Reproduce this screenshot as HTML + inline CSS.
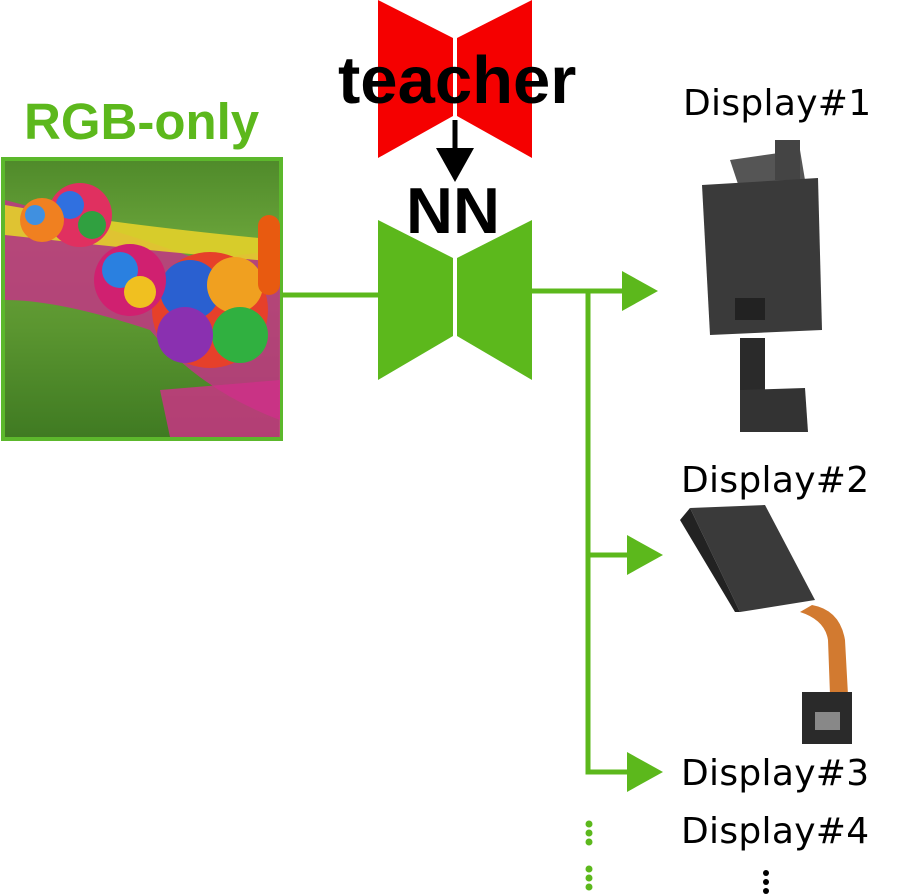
<!DOCTYPE html>
<html><head><style>
body{margin:0;width:897px;height:895px;background:#fff;overflow:hidden;position:relative;font-family:"Liberation Sans",sans-serif}
.t{position:absolute;white-space:nowrap;line-height:1}
.d{font-family:"DejaVu Sans","Liberation Sans",sans-serif;font-size:36px;color:#000;letter-spacing:0.3px}
</style></head><body>
<svg width="897" height="895" style="position:absolute;left:0;top:0">
<defs>
<linearGradient id="sky" x1="0" y1="0" x2="0" y2="1">
<stop offset="0" stop-color="#4f8a2a"/><stop offset="0.3" stop-color="#6aa43a"/><stop offset="0.6" stop-color="#5b9630"/><stop offset="1" stop-color="#3f7a22"/></linearGradient>
</defs>
<rect x="3" y="159" width="278" height="280" fill="url(#sky)" stroke="#5cb82c" stroke-width="4"/>
<path d="M5 200 Q120 230 200 260 L280 250 L280 420 Q200 390 150 330 Q60 300 5 300Z" fill="#c8308a" opacity="0.8"/>
<path d="M5 205 Q120 225 280 240 L280 262 Q140 250 5 235Z" fill="#e3d02a" opacity="0.9"/>
<path d="M160 390 L280 380 L280 437 L170 437Z" fill="#d0308a" opacity="0.8"/>
<circle cx="210" cy="310" r="58" fill="#e6402a"/>
<circle cx="190" cy="290" r="30" fill="#2a60d0"/><circle cx="235" cy="285" r="28" fill="#f0a020"/><circle cx="240" cy="335" r="28" fill="#30b040"/><circle cx="185" cy="335" r="28" fill="#8a30b0"/>
<circle cx="130" cy="280" r="36" fill="#d02070"/><circle cx="120" cy="270" r="18" fill="#2a80e0"/><circle cx="140" cy="292" r="16" fill="#f0c020"/>
<circle cx="80" cy="215" r="32" fill="#e03060"/><circle cx="70" cy="205" r="14" fill="#3070e0"/><circle cx="92" cy="225" r="14" fill="#30a040"/>
<circle cx="42" cy="220" r="22" fill="#f08020"/><circle cx="35" cy="215" r="10" fill="#4090e0"/>
<rect x="258" y="215" width="22" height="80" rx="11" fill="#e85a10"/>
<polygon points="378,0 453,38 453,116 378,158" fill="#f50000"/>
<polygon points="457,38 532,0 532,158 457,116" fill="#f50000"/>
<line x1="455" y1="120" x2="455" y2="152" stroke="#000" stroke-width="5"/>
<polygon points="436,148 474,148 455,182" fill="#000"/>
<polygon points="378,220 453,258 453,336 378,380" fill="#5cb81c"/>
<polygon points="457,258 532,220 532,380 457,336" fill="#5cb81c"/>
<g stroke="#5cb81c" stroke-width="5" fill="none">
<line x1="282" y1="295" x2="380" y2="295"/>
<line x1="530" y1="291" x2="625" y2="291"/>
<path d="M588 291 L588 772 L630 772"/>
<line x1="588" y1="555" x2="630" y2="555"/>
</g>
<g fill="#5cb81c">
<polygon points="622,271 658,291 622,311"/>
<polygon points="627,535 663,555 627,575"/>
<polygon points="627,752 663,772 627,792"/>
<circle cx="589" cy="824" r="3.5"/><circle cx="589" cy="833" r="3.5"/><circle cx="589" cy="842" r="3.5"/>
<circle cx="589" cy="869" r="3.5"/><circle cx="589" cy="878" r="3.5"/><circle cx="589" cy="887" r="3.5"/>
</g>
<g fill="#000"><circle cx="766" cy="873" r="3"/><circle cx="766" cy="882" r="3"/><circle cx="766" cy="891" r="3"/></g>
<polygon points="730,160 800,150 805,180 740,190" fill="#555"/>
<rect x="775" y="140" width="25" height="40" fill="#444"/>
<polygon points="702,185 818,178 822,330 710,335" fill="#3a3a3a"/>
<rect x="735" y="298" width="30" height="22" fill="#222"/>
<rect x="740" y="338" width="25" height="55" fill="#2a2a2a"/>
<polygon points="740,390 805,388 808,432 740,432" fill="#333"/>
<polygon points="690,508 765,505 815,600 740,612" fill="#3a3a3a"/>
<polygon points="680,520 690,508 740,612 735,612" fill="#222"/>
<path d="M812 605 Q840 610 845 640 L848 695 L830 695 L828 640 Q825 620 800 612Z" fill="#d27a30"/>
<rect x="802" y="692" width="50" height="52" fill="#2a2a2a"/>
<rect x="815" y="712" width="25" height="18" fill="#888"/>
</svg>
<div class="t" style="left:24px;top:96px;font-size:51px;font-weight:bold;color:#5cb81c">RGB-only</div>
<div class="t" style="left:338px;top:47px;font-size:67px;font-weight:bold;color:#000">teacher</div>
<div class="t" style="left:406px;top:178px;font-size:65px;font-weight:bold;color:#000">NN</div>
<div class="t d" style="left:683px;top:86px">Display#1</div>
<div class="t d" style="left:681px;top:463px">Display#2</div>
<div class="t d" style="left:681px;top:756px">Display#3</div>
<div class="t d" style="left:681px;top:814px">Display#4</div>
</body></html>
